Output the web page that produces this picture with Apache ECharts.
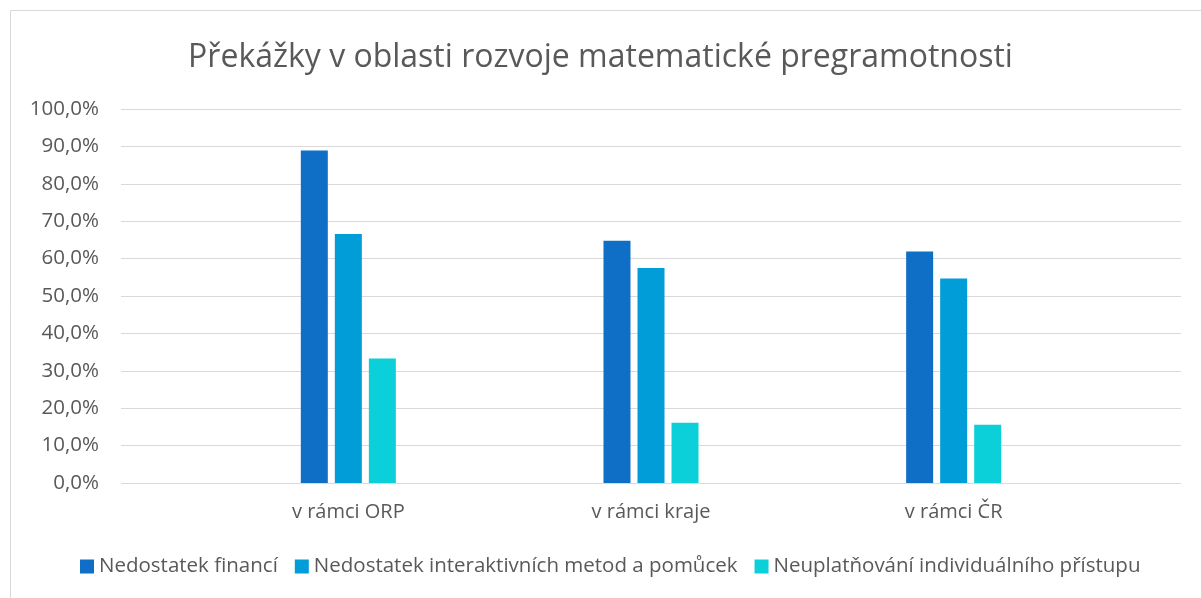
<!DOCTYPE html>
<html>
<head>
<meta charset="utf-8">
<script src="https://cdn.jsdelivr.net/npm/echarts@6/dist/echarts.min.js"></script>
<style>
  html, body { margin: 0; padding: 0; background: #fff; }
  #chart { width: 1201px; height: 598px; }
</style>
</head>
<body>
<div id="chart"></div>
<script>
// data
const categories = ['v rámci ORP', 'v rámci kraje', 'v rámci ČR']
const seriesNames = [
  'Nedostatek financí',
  'Nedostatek interaktivních metod a pomůcek',
  'Neuplatňování individuálního přístupu',
]
const financi = [88.9, 64.8, 61.9]
const metody = [66.6, 57.5, 54.7]
const pristup = [33.3, 16.1, 15.6]
const colors = ['#0F6FC6', '#009DD9', '#0BD0D9']

const textColor = '#595959'
const gridColor = '#d9d9d9'
const font = '"Open Sans", "Noto Sans", sans-serif'

const chart = echarts.init(document.getElementById('chart'))

// formát s desetinnou čárkou
const fmt = (v) => v.toFixed(1).replace('.', ',') + '%'

const bar = (name, data, color) => ({
  name,
  type: 'bar',
  xAxisIndex: 0,
  yAxisIndex: 0,
  data,
  barWidth: 27,
  barGap: '26%',
  itemStyle: { color },
})

chart.setOption({
  animation: false,
  title: {
    text: 'Překážky v oblasti rozvoje matematické pregramotnosti',
    left: 'center',
    top: 37,
    textStyle: { color: textColor, fontFamily: font, fontSize: 32, fontWeight: 'normal' },
  },
  graphic: [
    {
      type: 'rect',
      shape: { x: 10.5, y: 10.5, width: 1300, height: 700 },
      style: { fill: 'none', stroke: gridColor, lineWidth: 1 },
      silent: true,
    },
  ],
  legend: {
    bottom: 16,
    left: 75,
    itemWidth: 14,
    itemHeight: 14,
    itemGap: 17,
    icon: 'rect',
    textStyle: { color: textColor, fontFamily: font, fontSize: 20.5 },
    data: seriesNames,
  },
  grid: [
    // bars and category axis
    { left: 197, right: 96, top: 109, bottom: 115 },
    // wide grid for the value axis and gridlines
    { left: 121, right: 20, top: 109, bottom: 115 },
  ],
  xAxis: [
    {
      type: 'category',
      gridIndex: 0,
      data: categories,
      axisLine: { show: false },
      axisTick: { show: false },
      axisLabel: { color: textColor, fontFamily: font, fontSize: 20, margin: 19 },
    },
    { type: 'category', gridIndex: 1, data: categories, show: false },
  ],
  yAxis: [
    { type: 'value', gridIndex: 0, min: 0, max: 100, interval: 10, show: false },
    {
      type: 'value',
      gridIndex: 1,
      min: 0,
      max: 100,
      interval: 10,
      axisLine: { show: false },
      axisTick: { show: false },
      splitLine: { lineStyle: { color: gridColor, width: 1 } },
      axisLabel: { color: textColor, fontFamily: font, fontSize: 20.5, margin: 22, formatter: fmt },
    },
  ],
  series: [
    bar(seriesNames[0], financi, colors[0]),
    bar(seriesNames[1], metody, colors[1]),
    bar(seriesNames[2], pristup, colors[2]),
  ],
})
</script>
</body>
</html>
